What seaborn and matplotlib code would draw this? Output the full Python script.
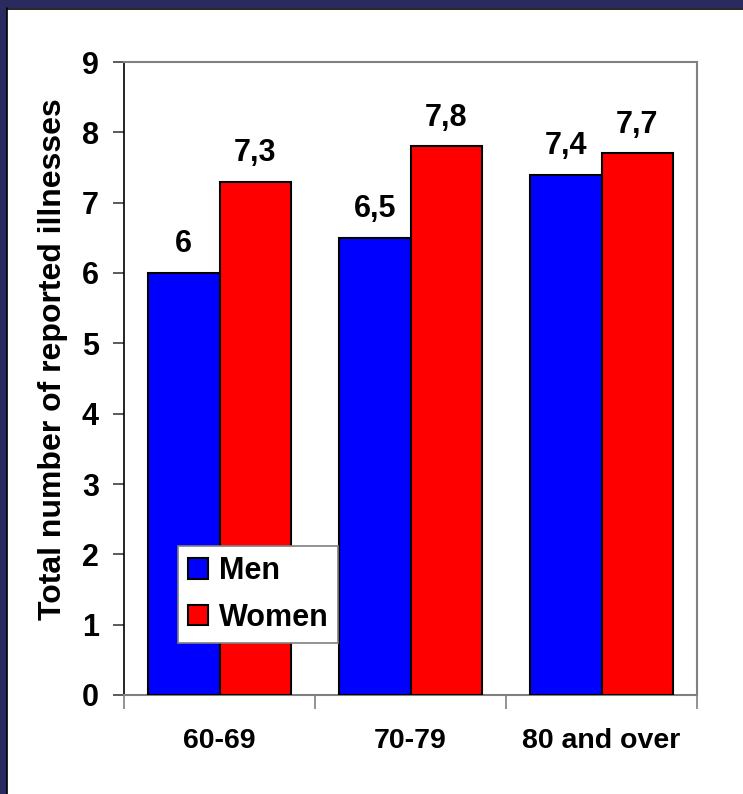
import matplotlib
matplotlib.use("Agg")
import matplotlib.pyplot as plt
from matplotlib.patches import Rectangle
import seaborn as sns
import pandas as pd

age_groups = ["60-69", "70-79", "80 and over"]
men = [6.0, 6.5, 7.4]
women = [7.3, 7.8, 7.7]
men_labels = ["6", "6,5", "7,4"]
women_labels = ["7,3", "7,8", "7,7"]
y_ticks = [0, 1, 2, 3, 4, 5, 6, 7, 8, 9]

df = pd.DataFrame({
    "age": age_groups * 2,
    "value": men + women,
    "sex": ["Men"] * 3 + ["Women"] * 3,
    "label": men_labels + women_labels,
})

sns.set_theme(style="white")
plt.rcParams["font.family"] = ["Liberation Sans", "DejaVu Sans"]
plt.rcParams["font.weight"] = "bold"
plt.rcParams["text.color"] = "black"
plt.rcParams["axes.labelcolor"] = "black"
plt.rcParams["xtick.color"] = "black"
plt.rcParams["ytick.color"] = "black"

W, H = 743, 794
fig = plt.figure(figsize=(W / 100, H / 100), dpi=100)
fig.patch.set_facecolor("white")

# slide frame: navy strips along the top and left edges
navy = "#2B2A5E"
fig.patches.append(Rectangle((0, 1 - 8 / H), 1, 8 / H, transform=fig.transFigure,
                             facecolor=navy, edgecolor="none", zorder=0))
fig.patches.append(Rectangle((0, 0), 7 / W, 1, transform=fig.transFigure,
                             facecolor=navy, edgecolor="none", zorder=0))
fig.lines.append(plt.Line2D([7 / W, 1], [1 - 8.5 / H, 1 - 8.5 / H], transform=fig.transFigure,
                            color="black", lw=1.2))
fig.lines.append(plt.Line2D([7.5 / W, 7.5 / W], [0, 1 - 8 / H], transform=fig.transFigure,
                            color="black", lw=1.2))

FS = 22

ax = fig.add_axes([124 / W, 1 - 695 / H, (697 - 124) / W, (695 - 62) / H])
sns.barplot(data=df, x="age", y="value", hue="sex", order=age_groups,
            palette={"Men": "#0000FF", "Women": "#FF0000"},
            width=0.75, edgecolor="black", linewidth=1.5, saturation=1,
            ax=ax, zorder=3)

ax.set_ylim(0, 9)
ax.set_xlim(-0.5, 2.5)
ax.set_yticks(y_ticks)
ax.set_yticklabels([str(t) for t in y_ticks], fontsize=FS, fontweight="bold", color="black")
ax.set_xticks([-0.5, 0.5, 1.5, 2.5], minor=False)
ax.set_xticklabels([])
ax.set_xticks([0, 1, 2], minor=True)
ax.set_xticklabels(age_groups, minor=True, fontsize=20.5, fontweight="bold", color="black")
ax.tick_params(axis="x", which="major", bottom=True, length=10, width=1.2,
               color="#808080", direction="out")
ax.tick_params(axis="x", which="minor", bottom=True, length=0, pad=24)
ax.tick_params(axis="y", left=True, length=8, width=1.2, color="#404040",
               direction="out", pad=10)
ax.set_xlabel("")
ax.set_ylabel("Total number of reported illnesses", fontsize=23, fontweight="bold",
              color="black", labelpad=10)
ax.yaxis.label.set_y(0.53)

for side in ["top", "right", "bottom"]:
    ax.spines[side].set_visible(True)
    ax.spines[side].set_color("#808080")
    ax.spines[side].set_linewidth(1.5)
ax.spines["left"].set_color("black")
ax.spines["left"].set_linewidth(1.2)

for container, labels in zip(ax.containers, [men_labels, women_labels]):
    ax.bar_label(container, labels=labels, padding=10, fontsize=FS, fontweight="bold",
                 color="black")

leg = ax.legend(loc="lower left", bbox_to_anchor=(0.094, 0.082), frameon=True,
                fancybox=False, framealpha=1, fontsize=FS, handlelength=0.65,
                handleheight=0.65, handletextpad=0.35, borderpad=0.33,
                labelspacing=0.55, borderaxespad=0)
leg.get_frame().set_edgecolor("#808080")
leg.get_frame().set_linewidth(1.2)
leg.set_zorder(5)
for t in leg.get_texts():
    t.set_fontweight("bold")
    t.set_color("black")

fig.savefig("out.png", dpi=100, facecolor="white")
